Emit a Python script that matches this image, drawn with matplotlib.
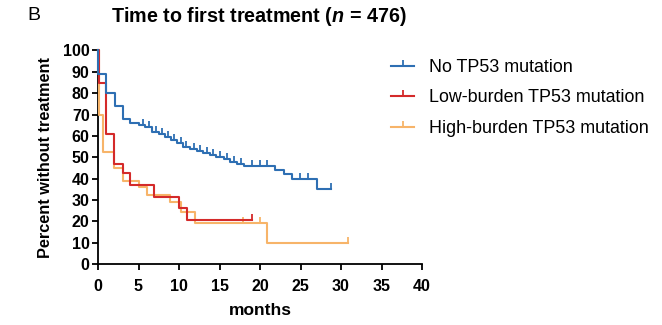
import matplotlib
matplotlib.use("Agg")
import matplotlib.pyplot as plt
from matplotlib.lines import Line2D
import numpy as np

plt.rcParams['font.family'] = ['Liberation Sans', 'DejaVu Sans']
plt.rcParams['mathtext.fontset'] = 'custom'
plt.rcParams['mathtext.it'] = 'Liberation Sans:italic:bold'
plt.rcParams['mathtext.rm'] = 'Liberation Sans:bold'

# Kaplan-Meier steps (months, percent)
labels = ["No TP53 mutation", "Low-burden TP53 mutation", "High-burden TP53 mutation"]

blue_t = [0, 0.05, 1.0, 2.1, 3.1, 4.0, 5.0, 5.8, 6.7, 7.5, 8.3, 9.0, 9.8, 10.5, 11.3,
          12.2, 13.0, 13.8, 14.6, 15.5, 16.3, 17.2, 18.0, 21.9, 23.0, 24.0, 27.0]
blue_s = [100, 89, 80, 74, 68, 66, 65, 64, 62, 61, 59.5, 58, 56.5, 55, 54,
          53, 52, 51, 50, 49, 48, 47, 46, 44, 42, 40, 35]
blue_end = 28.8
blue_cens = [5.5, 6.3, 7.1, 7.9, 8.7, 9.4, 10.2, 10.9, 11.8, 12.6, 13.4, 14.2, 15.1,
             15.9, 16.8, 17.6, 19.0, 20.0, 20.9, 24.9, 25.9, 28.8]

red_t = [0, 0.1, 1.0, 2.0, 3.1, 4.0, 6.9, 10.0, 11.0]
red_s = [100, 85, 61, 47, 42.5, 37, 31.5, 26, 20.6]
red_end = 19.0
red_cens = [19.0]

orange_t = [0, 0.15, 0.6, 2.0, 3.1, 5.0, 6.0, 8.9, 10.2, 12.0, 20.9]
orange_s = [100, 70, 52.6, 45, 39, 36, 32.3, 29, 24.5, 19.3, 9.7]
orange_end = 30.9
orange_cens = [17.9, 20.0, 30.9]

colors = ["#2e6fb3", "#d42a2a", "#f7b469"]


def km(ax, t, s, end, cens, color, z):
    tt = list(t) + [end]
    ss = list(s) + [s[-1]]
    ax.step(tt, ss, where="post", color=color, lw=1.5, zorder=z, clip_on=False)
    idx = np.searchsorted(t, cens, side="right") - 1
    ax.plot(cens, np.array(s)[idx], linestyle="none", marker=2, markersize=4.5,
            markeredgewidth=1.3, color=color, zorder=z, clip_on=False)


fig = plt.figure(figsize=(6.62, 3.25), dpi=100)
ax = fig.add_axes([98 / 662, 1 - 264 / 325, 324 / 662, 213.5 / 325])

km(ax, orange_t, orange_s, orange_end, orange_cens, colors[2], 3)
km(ax, red_t, red_s, red_end, red_cens, colors[1], 4)
km(ax, blue_t, blue_s, blue_end, blue_cens, colors[0], 5)

ax.set_xlim(0, 40)
ax.set_ylim(0, 100)
ax.set_xticks(np.arange(0, 41, 5))
ax.set_yticks(np.arange(0, 101, 10))
for sp in ["top", "right"]:
    ax.spines[sp].set_visible(False)
for sp in ["left", "bottom"]:
    ax.spines[sp].set_linewidth(1.3)
ax.tick_params(length=4, width=1.3, labelsize=11.5, pad=2)
ax.tick_params(axis="x", pad=7)
for lab in ax.get_xticklabels() + ax.get_yticklabels():
    lab.set_fontweight("bold")
ax.set_xlabel("months", fontsize=12.5, fontweight="bold", labelpad=6)
ax.set_ylabel("Percent without treatment", fontsize=11.7, fontweight="bold", labelpad=7)

fig.text(27 / 662, 1 - 16 / 325, "B", fontsize=14, va="center", ha="left")
fig.text(259 / 662, 1 - 17 / 325, r"Time to first treatment ($n$ = 476)",
         fontsize=14.2, fontweight="bold", va="center", ha="center")

handles = [Line2D([0], [0], color=c, lw=1.5, marker=2, markersize=4.5, markeredgewidth=1.3)
           for c in colors]
fig.legend(handles, labels, loc="upper left", bbox_to_anchor=(391 / 662, 1 - 59 / 325),
           frameon=False, fontsize=12.9, handlelength=1.3, handletextpad=0.8,
           labelspacing=0.75, borderpad=0, borderaxespad=0, numpoints=1)

fig.savefig("out.png", dpi=100)
